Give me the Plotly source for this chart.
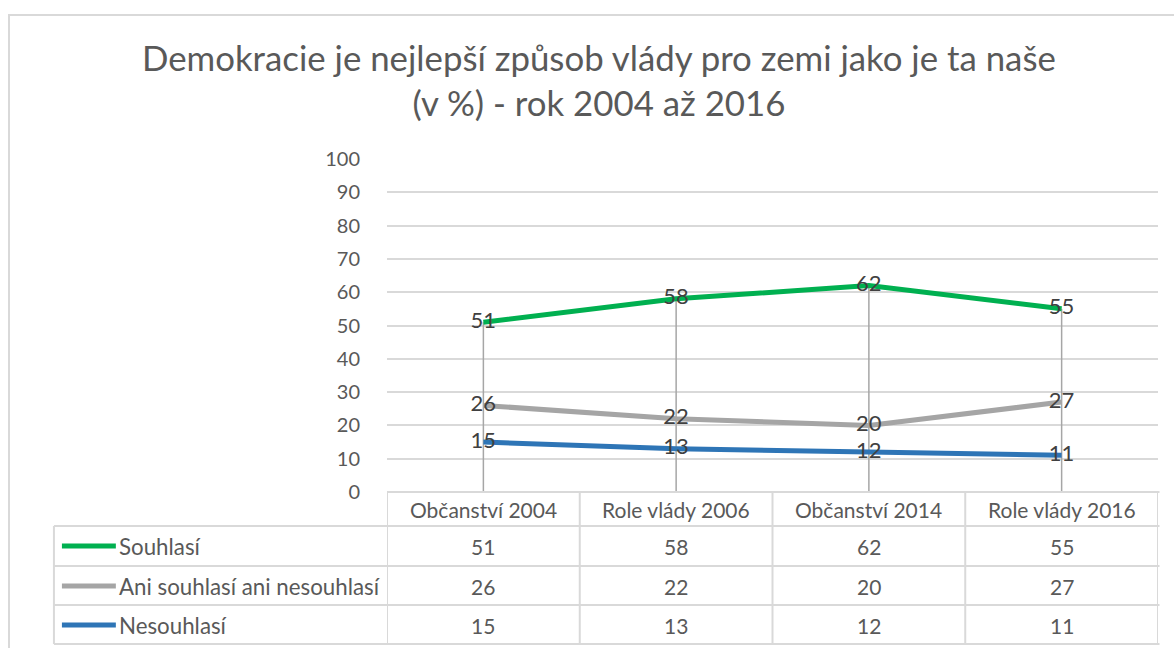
import plotly.graph_objects as go

categories = ["Občanství 2004", "Role vlády 2006", "Občanství 2014", "Role vlády 2016"]
series_names = ["Souhlasí", "Ani souhlasí ani nesouhlasí", "Nesouhlasí"]
souhlasi = [51, 58, 62, 55]
ani = [26, 22, 20, 27]
nesouhlasi = [15, 13, 12, 11]
y_ticks = [0, 10, 20, 30, 40, 50, 60, 70, 80, 90, 100]
title_text = "Demokracie je nejlepší způsob vlády pro zemi jako je ta naše<br>(v %) - rok 2004 až 2016"

series_values = [souhlasi, ani, nesouhlasi]
colors = ["#00b050", "#a5a5a5", "#2e75b6"]

W, H = 1174, 648
L, R, T, B = 386.5, 1158.5, 159.0, 492.0
FONT = "Lato, Carlito, Calibri, sans-serif"


def px(xp):
    return (xp - L) / (R - L)


def py(yp):
    return (B - yp) / (B - T)


xs = list(range(len(categories)))
fig = go.Figure()

# drop lines
dx, dy = [], []
for i in xs:
    top = max(s[i] for s in series_values)
    dx += [i, i, None]
    dy += [0, top, None]
fig.add_trace(go.Scatter(x=dx, y=dy, mode="lines", line=dict(color="#a6a6a6", width=1.5),
                         hoverinfo="skip", showlegend=False))

for name, vals, col in zip(series_names, series_values, colors):
    fig.add_trace(go.Scatter(
        x=xs, y=vals, mode="lines+text", name=name,
        line=dict(color=col, width=5),
        text=[str(v) for v in vals], textposition="middle center",
        textfont=dict(family=FONT, size=22, color="#404040"),
        showlegend=False,
    ))

shapes = []
grid = "#d9d9d9"
# outer frame
shapes.append(dict(type="rect", xref="paper", yref="paper", x0=px(8), x1=px(1185), y0=py(15), y1=py(660),
                   line=dict(color=grid, width=2)))
# table horizontal lines
for yp, x0 in [(492, 386.5), (526, 53), (566, 53), (605, 53), (644, 53)]:
    shapes.append(dict(type="line", xref="paper", yref="paper", x0=px(x0), x1=px(1160), y0=py(yp), y1=py(yp),
                       line=dict(color=grid, width=2)))
# vertical lines
shapes.append(dict(type="line", xref="paper", yref="paper", x0=px(53), x1=px(53), y0=py(526), y1=py(644),
                   line=dict(color=grid, width=2)))
for b in [i - 0.5 for i in range(len(categories) + 1)]:
    shapes.append(dict(type="line", xref="x", yref="paper", x0=b, x1=b, y0=py(492), y1=py(644),
                       line=dict(color=grid, width=2)))

annotations = []
annotations.append(dict(text=title_text, xref="paper", yref="paper", x=px(599), y=py(35), xanchor="center",
                        yanchor="top", showarrow=False, align="center",
                        font=dict(family=FONT, size=34.8, color="#595959")))
# header
for i, c in enumerate(categories):
    annotations.append(dict(text=c, xref="x", yref="paper", x=i, y=py(510), xanchor="center",
                            yanchor="middle", showarrow=False,
                            font=dict(family=FONT, size=21, color="#595959")))
row_y = [546, 586, 625]
for r, (name, vals, col) in enumerate(zip(series_names, series_values, colors)):
    yc = py(row_y[r])
    shapes.append(dict(type="line", xref="paper", yref="paper", x0=px(61), x1=px(115), y0=yc, y1=yc,
                       line=dict(color=col, width=5)))
    annotations.append(dict(text=name, xref="paper", yref="paper", x=px(116), y=yc, xanchor="left",
                            yanchor="middle", showarrow=False,
                            font=dict(family=FONT, size=22.3, color="#595959")))
    for i, v in enumerate(vals):
        annotations.append(dict(text=str(v), xref="x", yref="paper", x=i, y=yc, xanchor="center",
                                yanchor="middle", showarrow=False,
                                font=dict(family=FONT, size=21, color="#595959")))

fig.update_layout(
    width=W, height=H,
    margin=dict(l=L, r=W - R, t=T, b=H - B),
    paper_bgcolor="white", plot_bgcolor="white",
    shapes=shapes, annotations=annotations,
    xaxis=dict(range=[-0.5, len(categories) - 0.5], showgrid=False, zeroline=False, showticklabels=False,
               fixedrange=True),
    yaxis=dict(range=[0, 100], tickvals=y_ticks, showgrid=True, gridcolor=grid, gridwidth=1.5,
               zeroline=False, ticks="outside", ticklen=22, tickcolor="rgba(0,0,0,0)",
               tickfont=dict(family=FONT, size=20, color="#595959"), fixedrange=True),
    showlegend=False,
)

fig.write_html("out.html", config={"displayModeBar": False},
               post_script="document.body.style.margin='0';")
